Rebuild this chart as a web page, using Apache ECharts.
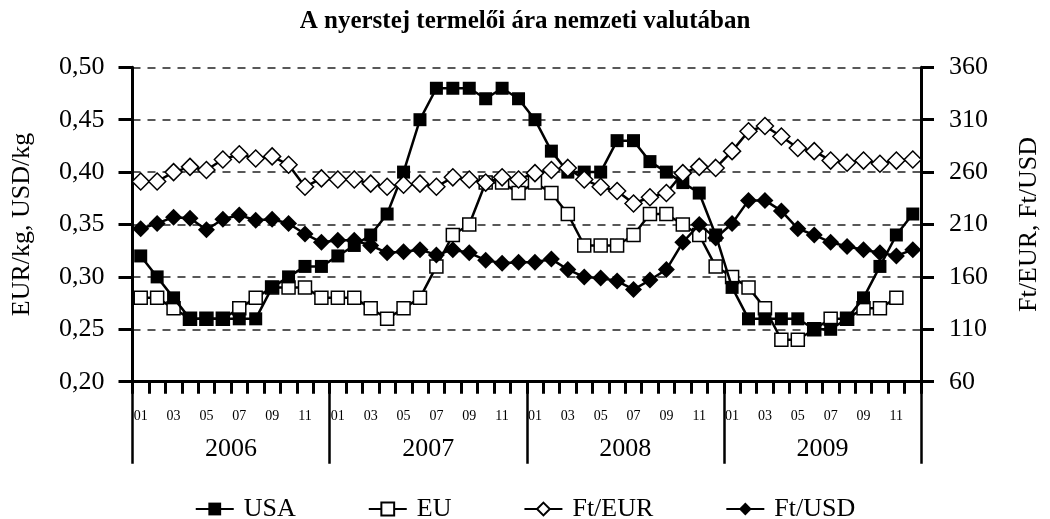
<!DOCTYPE html>
<html>
<head>
<meta charset="utf-8">
<title>A nyerstej termelői ára nemzeti valutában</title>
<script src="https://cdn.jsdelivr.net/npm/echarts@6/dist/echarts.min.js"></script>
<style>
  html, body { margin: 0; padding: 0; background: #fff; }
  #chart { width: 1050px; height: 519px; }
</style>
</head>
<body>
<div id="chart"></div>
<script>
const years = ['2006', '2007', '2008', '2009']
const monthLabels = ['01', '02', '03', '04', '05', '06', '07', '08', '09', '10', '11', '12']

// EUR/kg, USD/kg (bal tengely)
const usa = [
  0.32, 0.30, 0.28, 0.26, 0.26, 0.26, 0.26, 0.26, 0.29, 0.30, 0.31, 0.31,
  0.32, 0.33, 0.34, 0.36, 0.40, 0.45, 0.48, 0.48, 0.48, 0.47, 0.48, 0.47,
  0.45, 0.42, 0.40, 0.40, 0.40, 0.43, 0.43, 0.41, 0.40, 0.39, 0.38, 0.34,
  0.29, 0.26, 0.26, 0.26, 0.26, 0.25, 0.25, 0.26, 0.28, 0.31, 0.34, 0.36
]
const eu = [
  0.28, 0.28, 0.27, 0.26, 0.26, 0.26, 0.27, 0.28, 0.29, 0.29, 0.29, 0.28,
  0.28, 0.28, 0.27, 0.26, 0.27, 0.28, 0.31, 0.34, 0.35, 0.39, 0.39, 0.38,
  0.39, 0.38, 0.36, 0.33, 0.33, 0.33, 0.34, 0.36, 0.36, 0.35, 0.34, 0.31,
  0.30, 0.29, 0.27, 0.24, 0.24, 0.25, 0.26, 0.26, 0.27, 0.27, 0.28, null
]

// Ft/EUR, Ft/USD (jobb tengely)
const ftEur = [
  251, 251, 260, 265, 262, 272, 277, 273, 275, 267, 246, 254,
  253, 253, 249, 246, 248, 249, 246, 255, 253, 250, 255, 253,
  259, 262, 264, 253, 246, 242, 230, 236, 240, 259, 265, 264,
  280, 299, 304, 294, 283, 280, 271, 269, 271, 268, 271, 272
]
const ftUsd = [
  206, 211, 217, 216, 205, 215, 219, 214, 215, 211, 201, 193,
  195, 195, 190, 183, 184, 186, 181, 186, 183, 176, 173, 174,
  174, 177, 167, 160, 159, 156, 148, 157, 167, 193, 210, 197,
  211, 233, 233, 223, 206, 200, 193, 189, 186, 183, 180, 186
]

const leftTicks = { min: 0.20, max: 0.50, step: 0.05 }
const rightTicks = { min: 60, max: 360, step: 50 }

const categories = []
years.forEach(y => monthLabels.forEach(m => categories.push(y + '-' + m)))

const font = 'Liberation Serif'
const chart = echarts.init(document.getElementById('chart'), null, { renderer: 'canvas' })

function lineSeries(name, data, yIndex, symbol, size, filled, z) {
  return {
    name: name,
    type: 'line',
    yAxisIndex: yIndex,
    data: data,
    symbol: symbol,
    symbolSize: size,
    showAllSymbol: true,
    connectNulls: false,
    z: z,
    lineStyle: { color: '#000', width: 2.5 },
    itemStyle: {
      color: filled ? '#000' : '#fff',
      borderColor: '#000',
      borderWidth: filled ? 0 : 1.5
    },
    emphasis: { disabled: true }
  }
}

const option = {
  animation: false,
  backgroundColor: '#fff',
  title: {
    text: 'A nyerstej termelői ára nemzeti valutában',
    left: 'center',
    top: 4,
    textStyle: { fontFamily: font, fontWeight: 'bold', fontSize: 25, color: '#000' }
  },
  grid: { left: 132.5, right: 125.5, top: 67.3, bottom: 137.3 },
  legend: {
    top: 491,
    left: 'center',
    itemGap: 72,
    itemWidth: 38,
    itemHeight: 16,
    textStyle: { fontFamily: font, fontSize: 26, color: '#000', padding: [0, 0, 0, 5] },
    data: ['USA', 'EU', 'Ft/EUR', 'Ft/USD']
  },
  xAxis: [
    {
      // hónapok: tengelyvonal és rövid osztások
      type: 'category',
      data: categories,
      boundaryGap: true,
      axisLine: { lineStyle: { color: '#000', width: 3 } },
      axisTick: { show: true, interval: 0, length: 12, lineStyle: { color: '#000', width: 3 } },
      axisLabel: { show: false },
      splitLine: { show: false }
    },
    {
      // évek: hosszú elválasztó vonalak
      type: 'category',
      data: years,
      position: 'bottom',
      boundaryGap: true,
      axisLine: { show: false },
      axisTick: { show: true, interval: 0, length: 82, lineStyle: { color: '#000', width: 2.5 } },
      axisLabel: { margin: 54, fontFamily: font, fontSize: 26, color: '#000' },
      splitLine: { show: false }
    },
    {
      // hónap feliratok
      type: 'category',
      data: categories,
      position: 'bottom',
      offset: 28,
      boundaryGap: true,
      axisLine: { show: false },
      axisTick: { show: false },
      axisLabel: {
        interval: 1,
        margin: 0,
        fontFamily: font,
        fontSize: 14,
        color: '#000',
        formatter: v => v.slice(5)
      },
      splitLine: { show: false }
    }
  ],
  yAxis: [
    {
      type: 'value',
      min: leftTicks.min,
      max: leftTicks.max,
      interval: leftTicks.step,
      name: 'EUR/kg, USD/kg',
      nameLocation: 'middle',
      nameRotate: 90,
      nameGap: 97,
      nameTextStyle: { fontFamily: font, fontSize: 26, color: '#000' },
      axisLine: { show: true, lineStyle: { color: '#000', width: 3 } },
      axisTick: { show: true, length: 14, lineStyle: { color: '#000', width: 3 } },
      axisLabel: {
        margin: 28,
        fontFamily: font,
        fontSize: 26,
        color: '#000',
        formatter: v => v.toFixed(2).replace('.', ',')
      },
      splitLine: { show: true, lineStyle: { color: '#222', width: 1.5, type: [8, 7] } }
    },
    {
      type: 'value',
      position: 'right',
      min: rightTicks.min,
      max: rightTicks.max,
      interval: rightTicks.step,
      name: 'Ft/EUR, Ft/USD',
      nameLocation: 'middle',
      nameRotate: 90,
      nameGap: 95,
      nameTextStyle: { fontFamily: font, fontSize: 26, color: '#000' },
      axisLine: { show: true, lineStyle: { color: '#000', width: 3 } },
      axisTick: { show: true, length: 13, lineStyle: { color: '#000', width: 3 } },
      axisLabel: { margin: 28, fontFamily: font, fontSize: 26, color: '#000' },
      splitLine: { show: false }
    }
  ],
  series: [
    lineSeries('USA', usa, 0, 'rect', 13, true, 3),
    lineSeries('EU', eu, 0, 'rect', 13, false, 2),
    lineSeries('Ft/EUR', ftEur, 1, 'diamond', 17, false, 4),
    lineSeries('Ft/USD', ftUsd, 1, 'diamond', 17, true, 5)
  ]
}

chart.setOption(option)
</script>
</body>
</html>
